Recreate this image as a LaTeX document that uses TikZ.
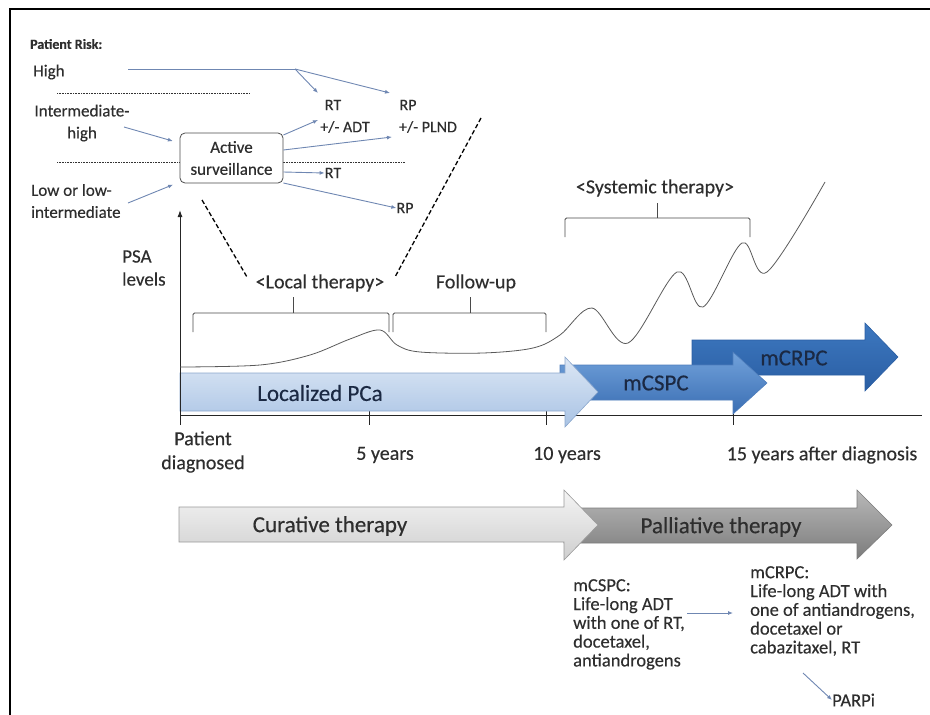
\documentclass[tikz,border=0pt]{standalone}
\usepackage{fontspec}
\setmainfont{Carlito}[FakeBold=0.35]
\usetikzlibrary{arrows.meta}
\definecolor{txtgray}{HTML}{2E2E2E}
\definecolor{navy}{HTML}{1B2943}
\definecolor{linkblue}{HTML}{6F87B2}
\definecolor{bracegray}{HTML}{4A4A4A}
\definecolor{locTop}{HTML}{DCE7F5}
\definecolor{locBot}{HTML}{A9C3E4}
\definecolor{locLine}{HTML}{8AA6CC}
\definecolor{cspTop}{HTML}{72A2DB}
\definecolor{cspBot}{HTML}{3A6EB3}
\definecolor{crpTop}{HTML}{3D78C0}
\definecolor{crpBot}{HTML}{2A5EA3}
\definecolor{curTop}{HTML}{F4F4F4}
\definecolor{curBot}{HTML}{CFCFCF}
\definecolor{palTop}{HTML}{B8B8B8}
\definecolor{palBot}{HTML}{7C7C7C}

\begin{document}
\begin{tikzpicture}[x=1pt,y=-1pt,
  txt/.style={inner sep=0pt, text=txtgray, font=\fontsize{17}{22}\selectfont},
  small/.style={txt, font=\fontsize{16}{20}\selectfont},
  mid/.style={txt, font=\fontsize{20}{24}\selectfont},
  big/.style={inner sep=0pt, text=navy, font=\fontsize{23}{26}\selectfont},
  note/.style={txt, align=left, font=\fontsize{18.5}{18.8}\selectfont},
  riskline/.style={draw=black!80, line width=0.6pt, dash pattern=on 0.7pt off 0.9pt},
  link/.style={draw=linkblue, line width=0.9pt, -{Latex[length=5pt,width=4pt]}},
  zoomline/.style={draw=black, line width=1.3pt, dash pattern=on 4.5pt off 2.5pt},
  brace/.style={draw=bracegray, line width=0.9pt, rounded corners=1.5pt},
  axis/.style={draw=black!85, line width=1pt}
]
\useasboundingbox (0,0) rectangle (930,715);
\draw[line width=2pt] (10,715) -- (10,9) -- (930,9);

% patient risk groups
\node[txt, anchor=west, font=\bfseries\fontsize{14}{16}\selectfont] (risk) at (30,44) {Patient Risk:};
\node[txt, anchor=west] (high) at (33,72) {High};
\node[txt, align=center] (inthigh) at (82,123) {Intermediate-\\high};
\node[txt, align=left, anchor=west] (low) at (31,201) {Low or low-\\intermediate};
\draw[riskline] (57,93) -- (250,93);
\draw[riskline] (57,162) -- (405,162);
\node[txt, draw=black!70, fill=white, rounded corners=5pt, align=center,
      minimum width=103pt, minimum height=50pt, line width=0.8pt] (surv) at (231.5,158) {Active\\surveillance};

% treatment options
\node[small] (rtA) at (333,105) {RT};
\node[small] (adt) at (345,127) {+/- ADT};
\node[small] (rpA) at (408,105) {RP};
\node[small] (plnd) at (428,127) {+/- PLND};
\node[small] (rtB) at (333,173) {RT};
\node[small] (rpB) at (405,208) {RP};

\coordinate (hstart) at (128,69);
\coordinate (hsplit) at (295,69);
\draw[draw=linkblue, line width=0.9pt] (hstart) -- (hsplit);
\draw[link] (hsplit) -- (318,93);
\draw[link] (hsplit) -- (390,93);
\draw[link, shorten >=7pt] (124,127) -- (surv.west |- 0,143);
\draw[link, shorten >=7pt] (128,203) -- (surv.west |- 0,182);
\draw[link] (surv.east |- 0,135) -- (318,120);
\draw[link] (surv.east |- 0,150) -- (392,137);
\draw[link] (surv.east |- 0,172) -- (rtB.west);
\draw[link] (surv.east |- 0,183) -- (rpB.west);

% zoom lines to local therapy
\node[mid] (local) at (320,283) {<Local therapy>};
\node[mid] (follow) at (476,283) {Follow-up};
\node[mid] (systemic) at (655,188) {<Systemic therapy>};
\coordinate (zl) at (202,200);
\coordinate (zr) at (481,118);
\draw[zoomline] (zl) -- (247,277);
\draw[zoomline] (zr) -- (395,277);

% braces
\draw[brace] (193,332) -- (193,313) -- (389,313) -- (389,332);
\draw[brace] (293,313) -- (293,297);
\draw[brace] (393,332) -- (393,313) -- (546,313) -- (546,332);
\draw[brace] (470,313) -- (470,297);
\draw[brace] (565,237) -- (565,218) -- (750,218) -- (750,237);
\draw[brace] (657,218) -- (657,203);

% time axis
\draw[axis] (180,415) -- (922,415);
\foreach \t in {369,546,733}
  \draw[axis] (\t,410) -- (\t,425);

% disease stages
\shade[top color=crpTop, bottom color=crpBot, draw=crpBot, line width=0.6pt]
  (692,340) -- (865,340) -- (865,323) -- (898,357) -- (865,391) -- (865,375) -- (692,375) -- cycle;
\shade[top color=cspTop, bottom color=cspBot, draw=cspBot!90, line width=0.6pt]
  (560,365) -- (733,365) -- (733,352) -- (767,383) -- (733,414) -- (733,400) -- (560,400) -- cycle;
\shade[top color=locTop, bottom color=locBot, draw=locLine, line width=0.6pt]
  (180,373) -- (565,373) -- (565,357) -- (598,392) -- (565,427) -- (565,411) -- (180,411) -- cycle;
\node[big] (locpca) at (320,393) {Localized PCa};
\node[big] (mcspc) at (656,383) {mCSPC};
\node[big] (mcrpc) at (794,358) {mCRPC};

% PSA axis and curve
\draw[axis, -{Latex[length=7pt,width=5pt]}] (180,425) -- (180,210);
\node[txt, align=left, anchor=west, font=\fontsize{19}{23}\selectfont] (psa) at (122,268) {PSA\\levels};
\draw[draw=black!65, line width=0.8pt] plot[smooth, tension=0.55] coordinates {
  (180,367) (260,365) (310,355) (350,339) (380,330) (397,345) (420,352) (483,353)
  (533,348) (560,335) (592,308) (628,343) (677,272) (703,307) (742,243) (767,272) (825,182)};

\node[mid, align=center] (diag) at (203,452) {Patient\\diagnosed};
\node[mid] (y5) at (385,455) {5 years};
\node[mid] (y10) at (567,455) {10 years};
\node[mid] (y15) at (822,455) {15 years after diagnosis};

% therapy phases
\shade[top color=palTop, bottom color=palBot, draw=palBot, line width=0.6pt]
  (564,508) -- (857,508) -- (857,490) -- (892,525) -- (857,559) -- (857,543) -- (564,543) -- cycle;
\shade[top color=curTop, bottom color=curBot, draw=black!40, line width=0.6pt]
  (179,507) -- (564,507) -- (564,490) -- (598,525) -- (564,560) -- (564,542) -- (179,542) -- cycle;
\node[txt, font=\fontsize{23}{26}\selectfont] (curative) at (330,526) {Curative therapy};
\node[txt, font=\fontsize{23}{26}\selectfont] (palliative) at (721,527) {Palliative therapy};

% treatment notes
\node[note, anchor=north west] (cspnote) at (573,579) {mCSPC:\\Life-long ADT\\with one of RT,\\docetaxel,\\antiandrogens};
\node[note, anchor=north west] (crpnote) at (750,566) {mCRPC:\\Life-long ADT with\\one of antiandrogens,\\docetaxel or\\cabazitaxel, RT};
\node[note, anchor=west] (parpi) at (832,700) {PARPi};
\draw[link] (687,613) -- (733,613);
\draw[link] (803,673) -- (parpi.west);
\end{tikzpicture}
\end{document}
